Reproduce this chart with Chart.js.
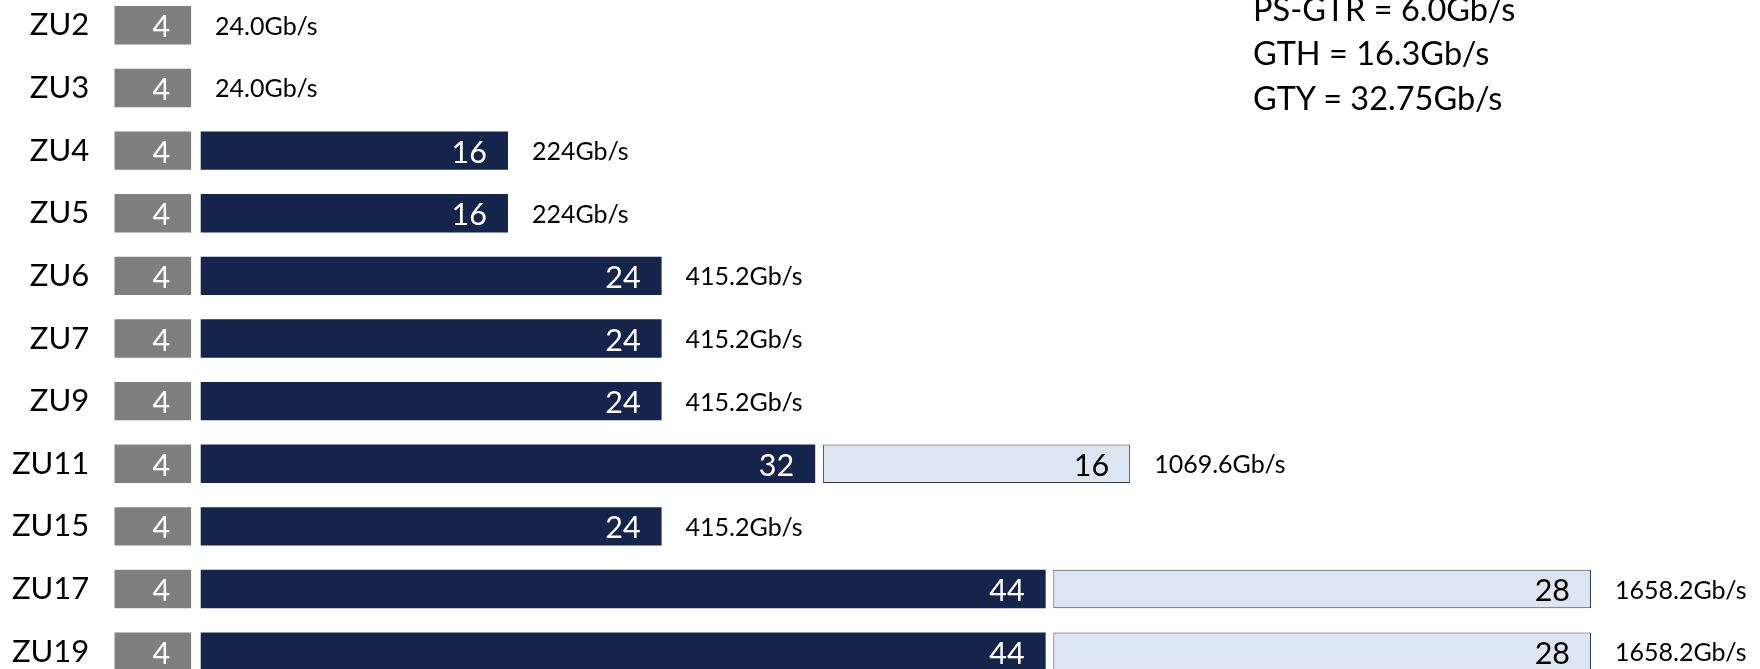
<!DOCTYPE html>
<html>
<head>
<meta charset="utf-8">
<script src="https://cdn.jsdelivr.net/npm/chart.js@4"></script>
<style>
html, body { margin: 0; padding: 0; background: #ffffff; overflow: hidden; width: 1760px; height: 669px; }
#wrap { position: absolute; left: 0; top: -6px; width: 1760px; height: 689px; }
#note { position: absolute; left: 1253px; top: -13.5px; font-family: Lato, sans-serif; font-size: 32.5px; line-height: 44.6px; color: #000; white-space: nowrap; }
</style>
</head>
<body>
<div id="wrap"><canvas id="c"></canvas></div>
<div id="note"></div>
<script>
// ---- data ----
const devices = ['ZU2', 'ZU3', 'ZU4', 'ZU5', 'ZU6', 'ZU7', 'ZU9', 'ZU11', 'ZU15', 'ZU17', 'ZU19'];
const psGtrLanes = [4, 4, 4, 4, 4, 4, 4, 4, 4, 4, 4];
const gthLanes = [0, 0, 16, 16, 24, 24, 24, 32, 24, 44, 44];
const gtyLanes = [0, 0, 0, 0, 0, 0, 0, 16, 0, 28, 28];
const totalBandwidth = ['24.0Gb/s', '24.0Gb/s', '224Gb/s', '224Gb/s', '415.2Gb/s', '415.2Gb/s', '415.2Gb/s', '1069.6Gb/s', '415.2Gb/s', '1658.2Gb/s', '1658.2Gb/s'];
const laneRates = ['PS-GTR = 6.0Gb/s', 'GTH = 16.3Gb/s', 'GTY = 32.75Gb/s'];

// ---- style constants ----
const GAP_AFTER_PS = 0.5;   // visual gap between segments (axis units)
const GAP_AFTER_GTH = 0.4;
const FONT = 'Lato, sans-serif';

document.getElementById('note').innerHTML = laneRates.join('<br>');

const seriesValues = [psGtrLanes, gthLanes, gtyLanes];

const psData = psGtrLanes.map(v => v ? [0, v] : null);
const gthData = gthLanes.map((v, i) => {
  if (!v) return null;
  const s = psGtrLanes[i] + GAP_AFTER_PS;
  return [s, s + v];
});
const gtyData = gtyLanes.map((v, i) => {
  if (!v) return null;
  const s = psGtrLanes[i] + GAP_AFTER_PS + gthLanes[i] + GAP_AFTER_GTH;
  return [s, s + v];
});

const labelPlugin = {
  id: 'segLabels',
  afterDatasetsDraw(chart) {
    const ctx = chart.ctx;
    const colors = ['#ffffff', '#ffffff', '#000000'];
    const rowEnd = new Array(devices.length).fill(null);
    const rowY = new Array(devices.length).fill(null);
    ctx.save();
    chart.data.datasets.forEach((ds, d) => {
      const meta = chart.getDatasetMeta(d);
      meta.data.forEach((el, i) => {
        const v = seriesValues[d][i];
        if (!v || ds.data[i] == null) return;
        const end = Math.max(el.x, el.base);
        ctx.font = '30.5px ' + FONT;
        ctx.fillStyle = colors[d];
        ctx.textAlign = 'right';
        ctx.textBaseline = 'alphabetic';
        ctx.fillText(String(v), end - 21, el.y + 12);
        if (rowEnd[i] === null || end > rowEnd[i]) rowEnd[i] = end;
        rowY[i] = el.y;
      });
    });
    ctx.font = '25px ' + FONT;
    ctx.fillStyle = '#000000';
    ctx.textAlign = 'left';
    totalBandwidth.forEach((t, i) => {
      if (rowEnd[i] === null) return;
      ctx.fillText(t, rowEnd[i] + 24, rowY[i] + 9.5);
    });
    ctx.restore();
  }
};

new Chart(document.getElementById('c'), {
  type: 'bar',
  data: {
    labels: devices,
    datasets: [
      { label: 'PS-GTR', data: psData, backgroundColor: '#7f7f7f', borderWidth: 0 },
      { label: 'GTH', data: gthData, backgroundColor: '#14244b', borderWidth: 0 },
      { label: 'GTY', data: gtyData, backgroundColor: '#dce6f2', borderColor: '#3c3c3c', borderWidth: 1, borderSkipped: false }
    ]
  },
  options: {
    indexAxis: 'y',
    responsive: true,
    maintainAspectRatio: false,
    animation: false,
    devicePixelRatio: 1,
    layout: { padding: 0, autoPadding: false },
    datasets: { bar: { grouped: false, barPercentage: 0.613, categoryPercentage: 1 } },
    plugins: { legend: { display: false }, tooltip: { enabled: false }, title: { display: false } },
    scales: {
      x: { type: 'linear', min: 0, max: 85.7, display: false },
      y: {
        type: 'category',
        grid: { display: false, drawTicks: false },
        border: { display: false },
        ticks: { font: { family: FONT, size: 31 }, color: '#000000', padding: 25 },
        afterFit(scale) {
          scale.width = 114.3;
          scale.paddingTop = 0;
          scale.paddingBottom = 0;
        }
      }
    }
  },
  plugins: [labelPlugin]
});
</script>
</body>
</html>
